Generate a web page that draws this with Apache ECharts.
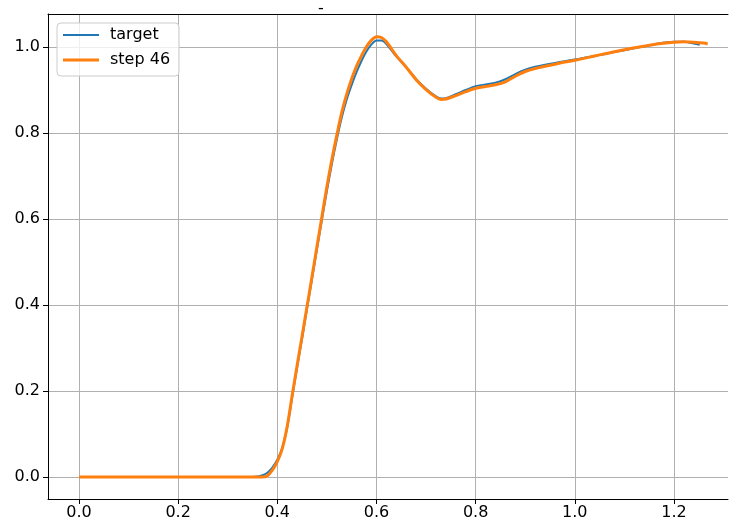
<!DOCTYPE html>
<html>
<head>
<meta charset="utf-8">
<script src="https://cdn.jsdelivr.net/npm/echarts@6/dist/echarts.min.js"></script>
<style>html,body{margin:0;padding:0;background:#fff;}#c{width:730px;height:525px;}</style>
</head>
<body>
<div id="c"></div>
<script>
const xTicks = [0.0, 0.2, 0.4, 0.6, 0.8, 1.0, 1.2];
const yTicks = [0.0, 0.2, 0.4, 0.6, 0.8, 1.0];
const seriesNames = ['target', 'step 46'];

const xTarget = [0, 0.1, 0.2, 0.3, 0.35, 0.36, 0.37, 0.38, 0.39, 0.40, 0.41, 0.42, 0.43, 0.44, 0.45, 0.46, 0.47, 0.48, 0.49, 0.50, 0.51, 0.52, 0.53, 0.54, 0.55, 0.56, 0.57, 0.58, 0.59, 0.60, 0.61, 0.62, 0.64, 0.66, 0.68, 0.70, 0.72, 0.73, 0.74, 0.76, 0.78, 0.80, 0.82, 0.84, 0.86, 0.88, 0.90, 0.92, 0.94, 0.96, 0.98, 1.00, 1.04, 1.08, 1.12, 1.16, 1.20, 1.22, 1.24, 1.252];
const yTarget = [0, 0, 0, 0, 0, 0.001, 0.004, 0.010, 0.022, 0.040, 0.068, 0.115, 0.185, 0.255, 0.322, 0.392, 0.46, 0.53, 0.598, 0.665, 0.728, 0.785, 0.836, 0.878, 0.912, 0.942, 0.968, 0.990, 1.006, 1.015, 1.015, 1.007, 0.978, 0.953, 0.925, 0.903, 0.885, 0.880, 0.881, 0.890, 0.900, 0.909, 0.913, 0.917, 0.925, 0.937, 0.947, 0.954, 0.959, 0.963, 0.967, 0.971, 0.979, 0.988, 0.997, 1.006, 1.012, 1.012, 1.008, 1.005];

const xStep = [0, 0.1, 0.2, 0.3, 0.35, 0.36, 0.37, 0.38, 0.39, 0.40, 0.41, 0.42, 0.43, 0.44, 0.45, 0.46, 0.47, 0.48, 0.49, 0.50, 0.51, 0.52, 0.53, 0.54, 0.55, 0.56, 0.57, 0.58, 0.59, 0.60, 0.61, 0.62, 0.64, 0.66, 0.68, 0.70, 0.72, 0.73, 0.74, 0.76, 0.78, 0.80, 0.82, 0.84, 0.86, 0.88, 0.90, 0.92, 0.94, 0.96, 0.98, 1.00, 1.04, 1.08, 1.12, 1.16, 1.20, 1.22, 1.24, 1.26, 1.268];
const yStep = [0, 0, 0, 0, 0, 0, 0, 0.003, 0.016, 0.036, 0.066, 0.118, 0.19, 0.26, 0.328, 0.397, 0.466, 0.536, 0.606, 0.675, 0.738, 0.795, 0.848, 0.89, 0.926, 0.956, 0.98, 1.001, 1.016, 1.024, 1.022, 1.012, 0.98, 0.953, 0.924, 0.901, 0.883, 0.878, 0.879, 0.887, 0.896, 0.904, 0.908, 0.912, 0.919, 0.932, 0.943, 0.950, 0.955, 0.960, 0.965, 0.969, 0.979, 0.989, 0.998, 1.006, 1.011, 1.012, 1.011, 1.009, 1.007];

const pairs = (xs, ys) => xs.map((x, i) => [x, ys[i]]);
const font = 'DejaVu Sans';
const X_MIN = -0.0625, X_MAX = 1.309;

const chart = echarts.init(document.getElementById('c'), null, {renderer: 'canvas'});
chart.setOption({
  animation: false,
  backgroundColor: '#fff',
  title: {
    text: '-', left: 313, top: -4,
    textStyle: {fontFamily: font, fontSize: 16, fontWeight: 'normal', color: '#000'}
  },
  grid: {
    left: 48, top: 14, width: 680, height: 485,
    outerBoundsMode: 'none',
    show: false
  },
  legend: {
    orient: 'vertical', left: 57, top: 23,
    data: [
      {name: seriesNames[0], icon: 'path://M0,0H36V2H0Z', itemStyle: {color: '#1f77b4'}},
      {name: seriesNames[1], icon: 'path://M0,0H36V3H0Z', itemStyle: {color: '#ff7f0e'}}
    ],
    symbolKeepAspect: true,
    itemWidth: 36, itemHeight: 20, itemGap: 5,
    padding: [2, 9, 6, 6],
    backgroundColor: 'rgba(255,255,255,0.8)',
    borderColor: '#cccccc', borderWidth: 1, borderRadius: 4,
    textStyle: {fontFamily: font, fontSize: 16, color: '#000', lineHeight: 20, padding: [0, 0, 0, 6]}
  },
  xAxis: [{
    type: 'value', min: X_MIN, max: X_MAX, position: 'bottom',
    axisLine: {show: true, onZero: false, lineStyle: {color: '#000', width: 1}},
    axisTick: {show: true, length: 5, lineStyle: {color: '#000'}, customValues: xTicks},
    axisLabel: {customValues: xTicks, margin: 6, fontFamily: font, fontSize: 16, color: '#000',
      formatter: v => v.toFixed(1)},
    splitLine: {show: true, lineStyle: {color: '#b0b0b0', width: 1}}
  }, {
    type: 'value', min: X_MIN, max: X_MAX, position: 'top',
    axisLine: {show: true, onZero: false, lineStyle: {color: '#000', width: 1}},
    axisTick: {show: false}, axisLabel: {show: false}, splitLine: {show: false}
  }],
  yAxis: {
    type: 'value', min: -0.0512, max: 1.0767,
    axisLine: {show: true, onZero: false, lineStyle: {color: '#000', width: 1}},
    axisTick: {show: true, length: 5, lineStyle: {color: '#000'}, customValues: yTicks},
    axisLabel: {customValues: yTicks, margin: 8, fontFamily: font, fontSize: 16, color: '#000',
      formatter: v => v.toFixed(1)},
    splitLine: {show: true, lineStyle: {color: '#b0b0b0', width: 1}}
  },
  series: [
    {
      name: seriesNames[0], type: 'line', data: pairs(xTarget, yTarget),
      symbol: 'none', smooth: 0.3, z: 2,
      lineStyle: {color: '#1f77b4', width: 2}, itemStyle: {color: '#1f77b4'}
    },
    {
      name: seriesNames[1], type: 'line', data: pairs(xStep, yStep),
      symbol: 'none', smooth: 0.3, z: 3,
      lineStyle: {color: '#ff7f0e', width: 3}, itemStyle: {color: '#ff7f0e'}
    }
  ]
});
</script>
</body>
</html>
